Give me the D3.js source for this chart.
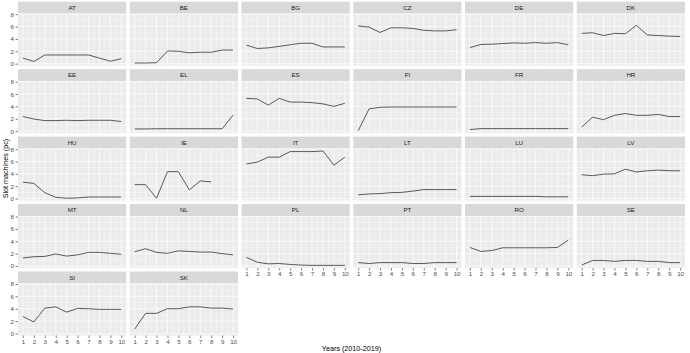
<!DOCTYPE html>
<html>
<head>
<meta charset="utf-8">
<script src="https://cdn.jsdelivr.net/npm/d3@7"></script>
<style>
  body { margin: 0; background: #fff; }
  svg { display: block; font-family: "Liberation Sans", Arial, sans-serif; }
</style>
</head>
<body>
<svg id="chart" width="690" height="353"></svg>
<script>
// years 2010-2019 are numbered 1..10 on the x axis
const years = [1, 2, 3, 4, 5, 6, 7, 8, 9, 10];
const yTicks = [0, 2, 4, 6, 8];
const countries = ["AT", "BE", "BG", "CZ", "DE", "DK", "EE", "EL", "ES", "FI", "FR", "HR", "HU",
                   "IE", "IT", "LT", "LU", "LV", "MT", "NL", "PL", "PT", "RO", "SE", "SI", "SK"];

// slot machines (pc), one array per country
const AT = [0.9, 0.35, 1.4, 1.4, 1.4, 1.4, 1.4, 0.9, 0.4, 0.8];
const BE = [0.1, 0.1, 0.15, 2.05, 2.0, 1.75, 1.85, 1.85, 2.2, 2.2];
const BG = [3.0, 2.45, 2.55, 2.8, 3.05, 3.3, 3.3, 2.7, 2.7, 2.7];
const CZ = [6.1, 5.9, 5.05, 5.8, 5.8, 5.7, 5.4, 5.3, 5.3, 5.5];
const DE = [2.6, 3.1, 3.15, 3.25, 3.35, 3.3, 3.4, 3.3, 3.4, 3.05];
const DK = [4.9, 5.0, 4.55, 4.9, 4.85, 6.2, 4.65, 4.55, 4.45, 4.4];
const EE = [2.35, 1.95, 1.7, 1.7, 1.75, 1.7, 1.75, 1.75, 1.75, 1.55];
const EL = [0.35, 0.35, 0.38, 0.38, 0.38, 0.38, 0.38, 0.38, 0.38, 2.6];
const ES = [5.3, 5.2, 4.2, 5.3, 4.7, 4.7, 4.6, 4.4, 4.0, 4.5];
const FI = [0.05, 3.6, 3.85, 3.9, 3.9, 3.9, 3.9, 3.9, 3.9, 3.9];
const FR = [0.25, 0.4, 0.4, 0.4, 0.4, 0.4, 0.4, 0.4, 0.4, 0.4];
const HR = [0.65, 2.25, 1.85, 2.55, 2.85, 2.55, 2.55, 2.7, 2.35, 2.35];
const HU = [2.65, 2.45, 0.95, 0.2, 0.05, 0.1, 0.25, 0.25, 0.25, 0.25];
const IE = [2.25, 2.25, 0.05, 4.35, 4.35, 1.4, 2.85, 2.7, null, null];
const IT = [5.6, 5.9, 6.7, 6.7, 7.6, 7.6, 7.6, 7.7, 5.4, 6.7];
const LT = [0.6, 0.75, 0.8, 0.95, 1.0, 1.2, 1.45, 1.45, 1.45, 1.45];
const LU = [0.35, 0.35, 0.35, 0.35, 0.35, 0.35, 0.35, 0.28, 0.28, 0.28];
const LV = [3.85, 3.7, 3.95, 4.0, 4.75, 4.3, 4.5, 4.6, 4.5, 4.5];
const MT = [1.3, 1.5, 1.55, 1.95, 1.6, 1.8, 2.2, 2.2, 2.05, 1.9];
const NL = [2.3, 2.8, 2.2, 2.05, 2.45, 2.35, 2.25, 2.25, 2.0, 1.8];
const PL = [1.4, 0.6, 0.35, 0.4, 0.25, 0.15, 0.1, 0.1, 0.1, 0.1];
const PT = [0.55, 0.4, 0.55, 0.55, 0.55, 0.4, 0.4, 0.55, 0.55, 0.55];
const RO = [3.0, 2.35, 2.5, 2.95, 2.95, 2.95, 2.95, 2.95, 3.0, 4.2];
const SE = [0.15, 0.9, 0.9, 0.75, 0.9, 0.9, 0.75, 0.75, 0.55, 0.55];
const SI = [2.75, 1.85, 4.1, 4.3, 3.45, 4.05, 4.0, 3.9, 3.9, 3.9];
const SK = [0.7, 3.25, 3.25, 4.0, 4.0, 4.3, 4.3, 4.1, 4.1, 3.95];

const series = [AT, BE, BG, CZ, DE, DK, EE, EL, ES, FI, FR, HR, HU,
                IE, IT, LT, LU, LV, MT, NL, PL, PT, RO, SE, SI, SK];

// layout (facet_wrap style, 6 columns)
const gridLeft = 18, gridRight = 685, gridTop = 1.7;
const cols = 6, hGap = 3.5, vGap = 3.45;
const stripH = 12, panelH = 52;
const panelW = (gridRight - gridLeft - (cols - 1) * hGap) / cols;
const nRows = Math.ceil(countries.length / cols);
const gridBottom = gridTop + nRows * (stripH + panelH) + (nRows - 1) * vGap;

// shared scales, ggplot-like 5% expansion
const xMin = d3.min(years), xMax = d3.max(years);
const xPad = (xMax - xMin) * 0.05;
const x = d3.scaleLinear().domain([xMin - xPad, xMax + xPad]).range([0, panelW]);

const allVals = series.flat().filter(v => v != null);
const yMin = d3.min(allVals), yMax = d3.max(allVals);
const yPad = (yMax - yMin) * 0.05;
const y = d3.scaleLinear().domain([yMin - yPad, yMax + yPad]).range([panelH, 0]);

const inX = v => v >= x.domain()[0] && v <= x.domain()[1];
const inY = v => v >= y.domain()[0] && v <= y.domain()[1];
const xMinor = d3.range(xMin - 0.5, xMax + 1, 1).filter(inX);
const yMinor = d3.range(yTicks[0] - 1, yTicks[yTicks.length - 1] + 2, 2).filter(inY);

const svg = d3.select('#chart');

const line = d3.line()
    .defined(d => d.v != null)
    .x(d => x(d.year))
    .y(d => y(d.v));

countries.forEach(function(code, i) {
    const r = Math.floor(i / cols), c = i % cols;
    const px = gridLeft + c * (panelW + hGap);
    const py = gridTop + r * (stripH + panelH + vGap) + stripH;
    const g = svg.append('g').attr('transform', 'translate(' + px + ',' + py + ')');

    // strip
    g.append('rect').attr('x', 0).attr('y', -stripH).attr('width', panelW).attr('height', stripH)
        .attr('fill', '#D9D9D9');
    g.append('text').attr('x', panelW / 2).attr('y', -stripH / 2).attr('dy', '0.35em')
        .attr('text-anchor', 'middle').attr('font-size', '6.2px').attr('fill', '#1A1A1A')
        .text(code);

    // panel background and grid
    g.append('rect').attr('width', panelW).attr('height', panelH).attr('fill', '#EBEBEB');
    g.selectAll('.xminor').data(xMinor).enter().append('line')
        .attr('x1', d => x(d)).attr('x2', d => x(d)).attr('y1', 0).attr('y2', panelH)
        .attr('stroke', '#fff').attr('stroke-width', 0.35);
    g.selectAll('.yminor').data(yMinor).enter().append('line')
        .attr('x1', 0).attr('x2', panelW).attr('y1', d => y(d)).attr('y2', d => y(d))
        .attr('stroke', '#fff').attr('stroke-width', 0.35);
    g.selectAll('.xmajor').data(years).enter().append('line')
        .attr('x1', d => x(d)).attr('x2', d => x(d)).attr('y1', 0).attr('y2', panelH)
        .attr('stroke', '#fff').attr('stroke-width', 0.7);
    g.selectAll('.ymajor').data(yTicks).enter().append('line')
        .attr('x1', 0).attr('x2', panelW).attr('y1', d => y(d)).attr('y2', d => y(d))
        .attr('stroke', '#fff').attr('stroke-width', 0.7);

    // data line
    const pts = years.map((yr, k) => ({ year: yr, v: series[i][k] }));
    g.append('path').datum(pts).attr('d', line)
        .attr('fill', 'none').attr('stroke', '#1a1a1a').attr('stroke-width', 0.7);

    // y axis on first column
    if (c === 0) {
        const ay = g.append('g').call(d3.axisLeft(y).tickValues(yTicks).tickSize(2.5).tickPadding(1.5));
        styleAxis(ay);
    }
    // x axis where nothing sits below
    if (i + cols >= countries.length) {
        const ax = g.append('g').attr('transform', 'translate(0,' + panelH + ')')
            .call(d3.axisBottom(x).tickValues(years).tickSize(2.5).tickPadding(1.5));
        styleAxis(ax);
    }
});

function styleAxis(a) {
    a.select('.domain').remove();
    a.selectAll('.tick line').attr('stroke', '#333').attr('stroke-width', 0.6);
    a.selectAll('.tick text').attr('fill', '#4D4D4D').attr('font-size', '6.2px')
        .attr('font-family', '"Liberation Sans", Arial, sans-serif');
}

// axis titles
svg.append('text')
    .attr('x', (gridLeft + gridRight) / 2).attr('y', 351)
    .attr('text-anchor', 'middle').attr('font-size', '7.2px').attr('fill', '#000')
    .text('Years (2010-2019)');
svg.append('text')
    .attr('transform', 'translate(7.5,' + ((gridTop + gridBottom) / 2) + ') rotate(-90)')
    .attr('text-anchor', 'middle').attr('font-size', '7.2px').attr('fill', '#000')
    .text('Slot machines (pc)');
</script>
</body>
</html>
